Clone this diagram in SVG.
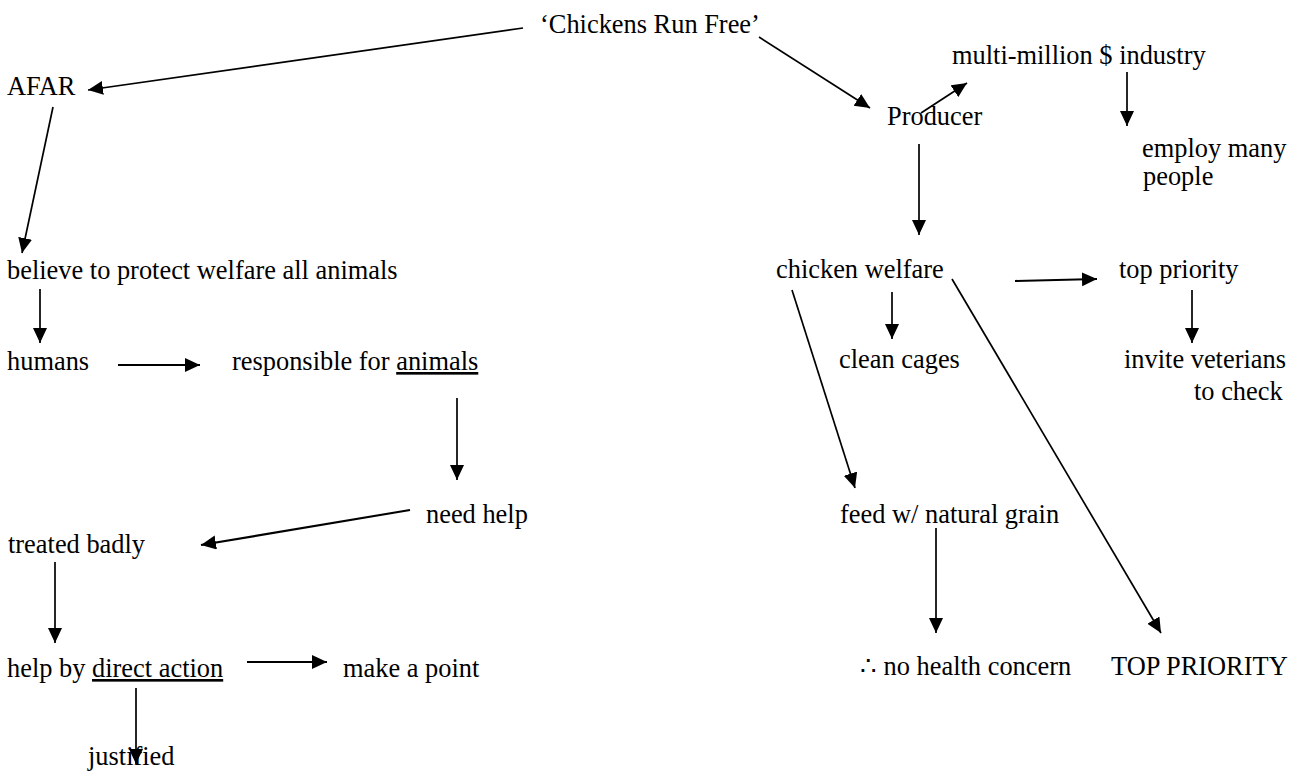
<svg xmlns="http://www.w3.org/2000/svg" width="1300" height="772" viewBox="0 0 1300 772">
<style>
text{font-family:"Liberation Serif","Times New Roman","DejaVu Serif",serif;font-size:26.4px;fill:#000}
.c line{stroke:#000;stroke-width:1.7;marker-end:url(#ah)}
.c line.t{stroke-width:2.2}
.u{text-decoration:underline}
</style>
<defs>
<marker id="ah" markerUnits="userSpaceOnUse" markerWidth="16" markerHeight="15" refX="15" refY="7" orient="auto">
<path d="M0,0 L15,7 L0,14 Z" fill="#000"/>
</marker>
</defs>
<rect width="1300" height="772" fill="#fff"/>
<g class="c" id="connectors">
<line x1="523" y1="28" x2="88" y2="90"/>
<line x1="759" y1="37" x2="870" y2="108"/>
<line x1="921" y1="113" x2="967" y2="83"/>
<line x1="1127" y1="72" x2="1127" y2="126"/>
<line x1="919" y1="144" x2="919" y2="235"/>
<line x1="53" y1="107" x2="22" y2="253"/>
<line x1="40" y1="289" x2="40" y2="343"/>
<line class="t" x1="118" y1="365" x2="200" y2="365"/>
<line x1="457" y1="398" x2="457" y2="480"/>
<line class="t" x1="410" y1="510" x2="201" y2="545"/>
<line x1="55" y1="562" x2="55" y2="643"/>
<line class="t" x1="247" y1="662" x2="327" y2="662"/>
<line x1="136" y1="688" x2="136" y2="764"/>
<line class="t" x1="1015" y1="281" x2="1097" y2="279"/>
<line x1="1192" y1="290" x2="1192" y2="343"/>
<line x1="892" y1="292" x2="892" y2="339"/>
<line x1="792" y1="290" x2="855" y2="488"/>
<line x1="952" y1="279" x2="1161" y2="633"/>
<line x1="936" y1="528" x2="936" y2="633"/>
</g>
<g id="n-chickens"><text x="540" y="33">‘Chickens Run Free’</text></g>
<g id="n-afar"><text x="7" y="95">AFAR</text></g>
<g id="n-producer"><text x="887" y="125">Producer</text></g>
<g id="n-industry"><text x="952" y="64">multi-million $ industry</text></g>
<g id="n-employ"><text x="1142" y="157">employ many</text><text x="1143" y="185">people</text></g>
<g id="n-believe"><text x="7" y="279">believe to protect welfare all animals</text></g>
<g id="n-welfare"><text x="776" y="278">chicken welfare</text></g>
<g id="n-toppriority"><text x="1119" y="278">top priority</text></g>
<g id="n-humans"><text x="7" y="370">humans</text></g>
<g id="n-responsible"><text x="232" y="370">responsible for <tspan class="u">animals</tspan></text></g>
<g id="n-cages"><text x="839" y="368">clean cages</text></g>
<g id="n-invite"><text x="1124" y="368">invite veterians</text><text x="1194" y="400">to check</text></g>
<g id="n-needhelp"><text x="426" y="523">need help</text></g>
<g id="n-feed"><text x="840" y="523">feed w/ natural grain</text></g>
<g id="n-treated"><text x="8" y="553">treated badly</text></g>
<g id="n-help"><text x="7" y="677">help by <tspan class="u">direct action</tspan></text></g>
<g id="n-point"><text x="343" y="677">make a point</text></g>
<g id="n-health"><text x="860" y="675">∴ no health concern</text></g>
<g id="n-TOP"><text x="1111" y="675">TOP PRIORITY</text></g>
<g id="n-justified"><text x="88" y="765">justified</text></g>
</svg>
